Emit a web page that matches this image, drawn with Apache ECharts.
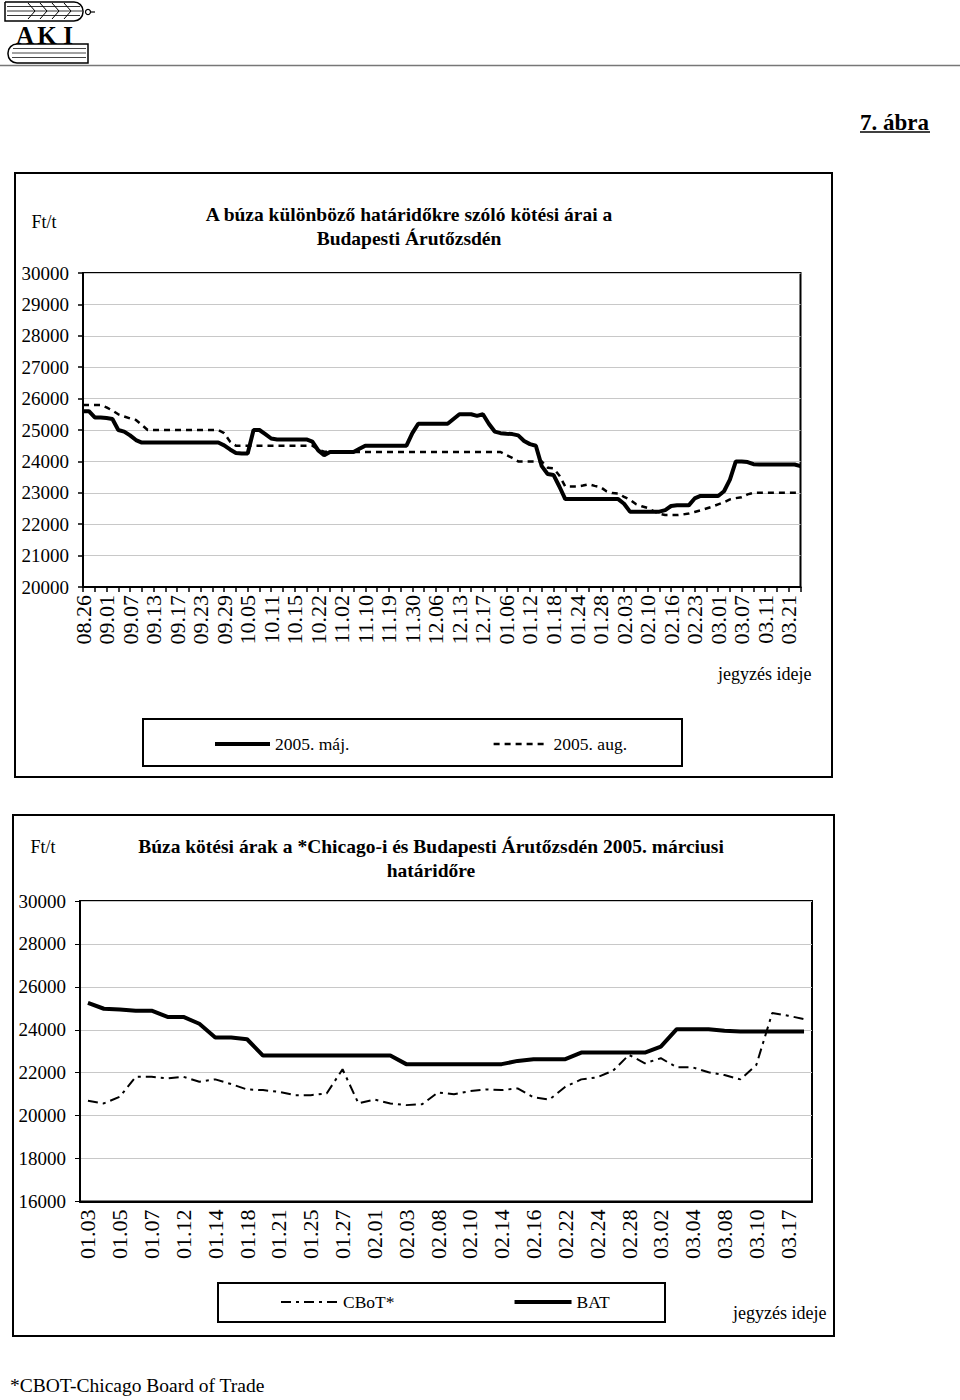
<!DOCTYPE html>
<html>
<head>
<meta charset="utf-8">
<style>
  html, body { margin: 0; padding: 0; background: #fff; }
  #chart { width: 960px; height: 1400px; }
</style>
<script src="https://cdn.jsdelivr.net/npm/echarts@6/dist/echarts.min.js"></script>
</head>
<body>
<div id="chart"></div>
<script>
// ---------- DATA ----------
// Upper chart: quotation dates (every 4th is labelled on the axis)
const topDates = [
  '08.26','08.27','08.30','08.31','09.01','09.02','09.03','09.06','09.07','09.08',
  '09.09','09.10','09.13','09.14','09.15','09.16','09.17','09.20','09.21','09.22',
  '09.23','09.24','09.27','09.28','09.29','09.30','10.01','10.04','10.05','10.06',
  '10.07','10.08','10.11','10.12','10.13','10.14','10.15','10.18','10.19','10.20',
  '10.22','10.25','10.26','10.29','11.02','11.03','11.05','11.08','11.10','11.12',
  '11.15','11.17','11.19','11.22','11.24','11.26','11.30','12.01','12.02','12.03',
  '12.06','12.07','12.08','12.10','12.13','12.14','12.15','12.16','12.17','12.20',
  '12.22','01.04','01.06','01.07','01.10','01.11','01.12','01.13','01.14','01.17',
  '01.18','01.19','01.20','01.21','01.24','01.25','01.26','01.27','01.28','01.31',
  '02.01','02.02','02.03','02.04','02.07','02.08','02.10','02.11','02.14','02.15',
  '02.16','02.17','02.18','02.21','02.23','02.24','02.25','02.28','03.01','03.02',
  '03.03','03.04','03.07','03.08','03.09','03.10','03.11','03.14','03.16','03.17',
  '03.21','03.22','03.23'
];
// 2005. máj. contract (Ft/t)
const majValues = [
  25600,25600,25400,25400,25380,25350,25000,24950,24830,24680,
  24600,24600,24600,24600,24600,24600,24600,24600,24600,24600,
  24600,24600,24600,24600,24510,24380,24270,24250,24250,25000,
  25000,24870,24730,24700,24700,24700,24700,24700,24700,24630,
  24350,24200,24300,24300,24300,24300,24300,24400,24500,24500,
  24500,24500,24500,24500,24500,24500,24900,25200,25200,25200,
  25200,25200,25200,25350,25500,25500,25500,25450,25500,25200,
  24950,24900,24880,24870,24830,24650,24550,24500,23850,23600,
  23570,23200,22800,22800,22800,22800,22800,22800,22800,22800,
  22800,22800,22650,22400,22400,22400,22400,22400,22400,22450,
  22580,22600,22600,22600,22820,22900,22900,22900,22900,23050,
  23420,24000,24000,23980,23910,23900,23900,23900,23900,23900,
  23900,23900,23850
];
// 2005. aug. contract (Ft/t)
const augValues = [
  25800,25800,25800,25800,25720,25620,25500,25430,25370,25320,
  25160,25000,25000,25000,25000,25000,25000,25000,25000,25000,
  25000,25000,25000,25000,24900,24630,24500,24500,24500,24500,
  24500,24500,24500,24500,24500,24500,24500,24500,24500,24500,
  24380,24310,24300,24300,24300,24300,24300,24300,24300,24300,
  24300,24300,24300,24300,24300,24300,24300,24300,24300,24300,
  24300,24300,24300,24300,24300,24300,24300,24300,24300,24300,
  24300,24300,24200,24110,24000,24000,24000,24000,24000,23800,
  23780,23550,23200,23200,23200,23230,23270,23220,23180,23050,
  22990,22980,22870,22780,22640,22570,22520,22420,22330,22290,
  22290,22290,22310,22340,22390,22440,22500,22560,22630,22700,
  22790,22830,22860,22950,23000,23000,23000,23000,23000,23000,
  23000,23000,23000
];

// Lower chart: quotation dates (every 2nd is labelled)
const bottomDates = [
  '01.03','01.04','01.05','01.06','01.07','01.10','01.12','01.13','01.14','01.17',
  '01.18','01.19','01.21','01.24','01.25','01.26','01.27','01.28','02.01','02.02',
  '02.03','02.07','02.08','02.09','02.10','02.11','02.14','02.15','02.16','02.21',
  '02.22','02.23','02.24','02.25','02.28','03.01','03.02','03.03','03.04','03.07',
  '03.08','03.09','03.10','03.14','03.17','03.18'
];
// CBoT* (Ft/t)
const cbotValues = [
  20690,20570,20880,21810,21810,21740,21810,21580,21690,21470,
  21220,21190,21110,20955,20955,21035,22160,20570,20750,20570,
  20490,20530,21080,21000,21140,21220,21190,21270,20850,20750,
  21345,21690,21785,22095,22830,22440,22675,22250,22250,22020,
  21890,21690,22360,24780,24655,24500
];
// BAT (Ft/t)
const batValues = [
  25250,24980,24940,24890,24890,24600,24600,24280,23640,23640,
  23560,22800,22800,22800,22800,22800,22800,22800,22800,22800,
  22400,22400,22400,22400,22400,22400,22400,22550,22630,22630,
  22630,22940,22940,22940,22940,22940,23220,24030,24030,24030,
  23960,23920,23920,23920,23920,23920
];

const topTitle = ['A búza különböző határidőkre szóló kötési árai a', 'Budapesti Árutőzsdén'];
const bottomTitle = ['Búza kötési árak a *Chicago-i és Budapesti Árutőzsdén 2005. márciusi', 'határidőre'];
const topLegend = ['2005. máj.', '2005. aug.'];
const bottomLegend = ['CBoT*', 'BAT'];

// ---------- CHART ----------
const FONT = "'Liberation Serif','Times New Roman',serif";
const chart = echarts.init(document.getElementById('chart'), null, {renderer: 'svg'});

function txt(x, y, text, size, bold, align) {
  return {
    type: 'text', x: x, y: y, silent: true,
    style: {
      text: text, fill: '#000',
      font: (bold ? 'bold ' : '') + size + 'px ' + FONT,
      align: align || 'left', verticalAlign: 'middle',
      textAlign: align || 'left', textVerticalAlign: 'middle'
    }
  };
}
function ln(x1, y1, x2, y2, w, c) {
  return {type: 'line', silent: true, shape: {x1: x1, y1: y1, x2: x2, y2: y2},
          style: {stroke: c || '#000', lineWidth: w || 1}};
}
function box(x, y, w, h, lw) {
  return {type: 'rect', silent: true, shape: {x: x, y: y, width: w, height: h},
          style: {fill: 'none', stroke: '#000', lineWidth: lw || 2}};
}
function chevron(x) {
  return {type: 'polyline', silent: true, shape: {points: [[x, 3], [x + 7, 11], [x, 19]]},
          style: {stroke: '#000', lineWidth: 1, fill: 'none'}};
}

const graphics = [
  // logo
  {type: 'rect', silent: true, shape: {x: 5, y: 2, width: 78, height: 19, r: [0, 9, 9, 0]},
   style: {fill: 'none', stroke: '#000', lineWidth: 1.5}},
  ln(7, 6.5, 80, 6.5, 1, '#333'), ln(7, 11, 82, 11, 1, '#333'), ln(7, 15.5, 80, 15.5, 1, '#333'),
  chevron(28), chevron(40), chevron(52), chevron(64),
  {type: 'circle', silent: true, shape: {cx: 88, cy: 12, r: 2.5}, style: {fill: 'none', stroke: '#000', lineWidth: 1.2}},
  ln(90.5, 12, 95, 12, 1.2),
  txt(25, 35, 'A', 25, true, 'center'),
  txt(47, 35, 'K', 25, true, 'center'),
  txt(68, 35, 'I', 25, true, 'center'),
  {type: 'rect', silent: true, shape: {x: 8, y: 44, width: 80, height: 19, r: [9, 0, 0, 9]},
   style: {fill: 'none', stroke: '#000', lineWidth: 1.5}},
  ln(13, 48.5, 86, 48.5, 1, '#444'), ln(12, 53, 86, 53, 1, '#444'), ln(12, 57.5, 86, 57.5, 1, '#444'),
  ln(0, 65.5, 960, 65.5, 1.5, '#777'),
  // figure number
  txt(860, 122, '7. ábra', 23, true, 'left'),
  ln(860, 132, 930, 132, 1.5),
  // upper frame
  box(15, 173, 817, 604, 2),
  txt(44, 222, 'Ft/t', 18, false, 'center'),
  txt(409, 214, topTitle[0], 19.5, true, 'center'),
  txt(409, 238, topTitle[1], 19.5, true, 'center'),
  txt(718, 674, 'jegyzés ideje', 18, false, 'left'),
  box(143, 719, 539, 47, 2),
  // lower frame
  box(13, 815, 821, 521, 2),
  txt(43, 847, 'Ft/t', 18, false, 'center'),
  txt(431, 846, bottomTitle[0], 19.5, true, 'center'),
  txt(431, 870, bottomTitle[1], 19.5, true, 'center'),
  txt(733, 1313, 'jegyzés ideje', 18, false, 'left'),
  box(218, 1283, 447, 39, 2),
  // footnote
  txt(10, 1385, '*CBOT-Chicago Board of Trade', 19.5, false, 'left')
];

const axisLabelBase = {fontFamily: FONT, color: '#000'};
const plain = function (v) { return String(v); };

const option = {
  animation: false,
  backgroundColor: '#fff',
  grid: [
    {left: 83, top: 273, width: 717.5, height: 314, show: true, borderColor: '#000', borderWidth: 2},
    {left: 80, top: 901, width: 732, height: 300.5, show: true, borderColor: '#000', borderWidth: 2}
  ],
  xAxis: [
    {
      type: 'category', gridIndex: 0, data: topDates, boundaryGap: false,
      axisLine: {lineStyle: {color: '#000', width: 2}},
      axisTick: {interval: 1, length: 5, lineStyle: {color: '#000', width: 1.5}},
      axisLabel: Object.assign({interval: 3, rotate: 90, fontSize: 22, margin: 8}, axisLabelBase),
      splitLine: {show: false}
    },
    {
      type: 'category', gridIndex: 1, data: bottomDates, boundaryGap: true,
      axisLine: {lineStyle: {color: '#000', width: 2}},
      axisTick: {interval: 0, length: 4, lineStyle: {color: '#555', width: 1}},
      axisLabel: Object.assign({interval: 1, rotate: 90, fontSize: 22, margin: 8}, axisLabelBase),
      splitLine: {show: false}
    }
  ],
  yAxis: [
    {
      type: 'value', gridIndex: 0, min: 20000, max: 30000, interval: 1000,
      axisLine: {show: true, lineStyle: {color: '#000', width: 2}},
      axisTick: {show: true, length: 5, lineStyle: {color: '#000', width: 1.5}},
      axisLabel: Object.assign({fontSize: 19, margin: 14, formatter: plain}, axisLabelBase),
      splitLine: {lineStyle: {color: '#c8c8c8', width: 1}}
    },
    {
      type: 'value', gridIndex: 1, min: 16000, max: 30000, interval: 2000,
      axisLine: {show: true, lineStyle: {color: '#000', width: 2}},
      axisTick: {show: true, length: 5, lineStyle: {color: '#000', width: 1}},
      axisLabel: Object.assign({fontSize: 19, margin: 14, formatter: plain}, axisLabelBase),
      splitLine: {lineStyle: {color: '#c8c8c8', width: 1}}
    }
  ],
  legend: [
    {
      data: topLegend, left: 213, top: 735, padding: 0, orient: 'horizontal',
      itemWidth: 55, itemHeight: 14, itemGap: 143,
      itemStyle: {opacity: 0, color: 'transparent', borderWidth: 0},
      lineStyle: {width: 'inherit'},
      textStyle: {fontFamily: FONT, fontSize: 17.5, color: '#000'}
    },
    {
      data: bottomLegend, left: 280, top: 1293, padding: 0, orient: 'horizontal',
      itemWidth: 57, itemHeight: 14, itemGap: 118,
      itemStyle: {opacity: 0, color: 'transparent', borderWidth: 0},
      lineStyle: {width: 'inherit'},
      textStyle: {fontFamily: FONT, fontSize: 17.5, color: '#000'}
    }
  ],
  series: [
    {name: topLegend[0], type: 'line', xAxisIndex: 0, yAxisIndex: 0, data: majValues,
     symbol: 'none', lineStyle: {color: '#000', width: 4}, itemStyle: {color: '#000'}},
    {name: topLegend[1], type: 'line', xAxisIndex: 0, yAxisIndex: 0, data: augValues,
     symbol: 'none', lineStyle: {color: '#000', width: 2.5, type: [6, 5]}, itemStyle: {color: '#000'}},
    {name: bottomLegend[0], type: 'line', xAxisIndex: 1, yAxisIndex: 1, data: cbotValues,
     symbol: 'none', lineStyle: {color: '#000', width: 2, type: [10, 5, 3, 5]}, itemStyle: {color: '#000'}},
    {name: bottomLegend[1], type: 'line', xAxisIndex: 1, yAxisIndex: 1, data: batValues,
     symbol: 'none', lineStyle: {color: '#000', width: 4}, itemStyle: {color: '#000'}}
  ],
  graphic: graphics
};
chart.setOption(option);
</script>
</body>
</html>
